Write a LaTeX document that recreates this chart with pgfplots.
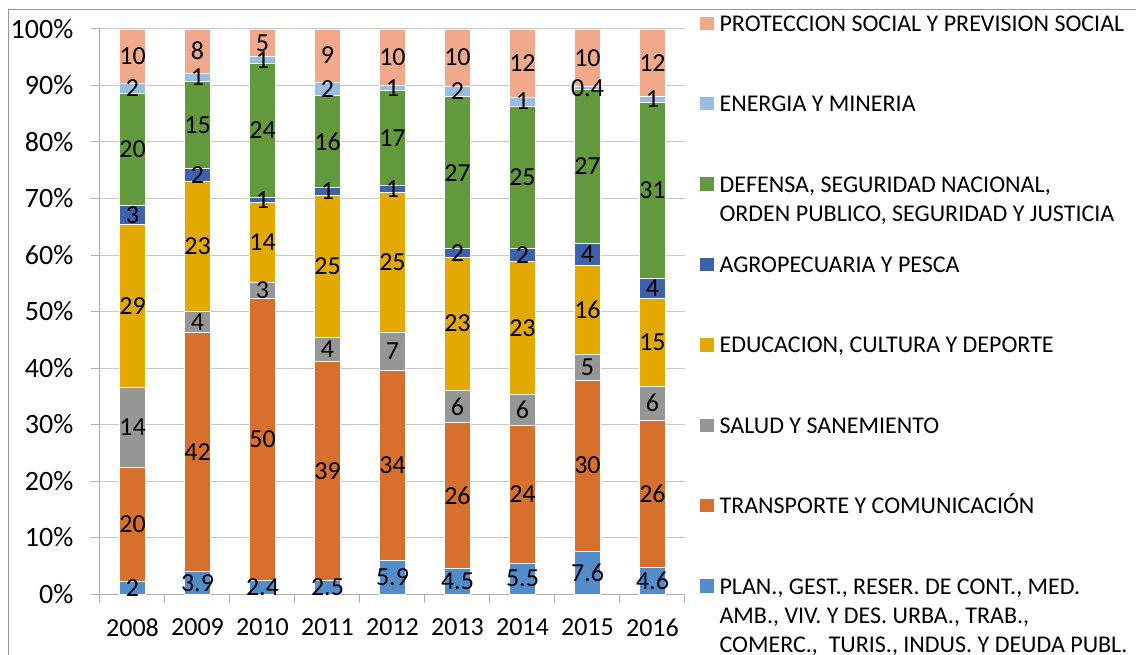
\documentclass[border=0pt]{standalone}
\usepackage{pgfplots}
\pgfplotsset{compat=1.18}
\usepackage{pgfplotstable}
\usepackage{fontspec}
\setmainfont{Carlito}

\definecolor{cPlan}{RGB}{82,140,202}
\definecolor{cTransp}{RGB}{214,112,44}
\definecolor{cSalud}{RGB}{150,150,150}
\definecolor{cEduc}{RGB}{228,169,0}
\definecolor{cAgro}{RGB}{62,97,172}
\definecolor{cDef}{RGB}{98,153,60}
\definecolor{cEner}{RGB}{155,189,227}
\definecolor{cProt}{RGB}{242,168,138}
\definecolor{gridc}{RGB}{200,200,200}
\definecolor{axisc}{RGB}{175,175,175}
\definecolor{borderc}{RGB}{150,150,150}

% segment heights (% of total) and the printed labels
\pgfplotstableread{
x plan planL transp transpL salud saludL educ educL agro agroL def defL ener enerL prot protL
0 2.20 2   20.30 20 14.10 14 28.80 29 3.40 3 19.90 20 1.70 2   9.60 10
1 3.95 3.9 42.30 42  3.85  4 23.00 23 2.25 2 15.35 15 1.50 1   7.80 8
2 2.50 2.4 49.90 50  2.80  3 14.10 14 0.90 1 23.80 24 1.10 1   4.90 5
3 2.50 2.5 38.60 39  4.30  4 25.20 25 1.30 1 16.30 16 2.40 2   9.40 9
4 6.00 5.9 33.50 34  6.90  7 24.70 25 1.20 1 16.90 17 0.80 1  10.00 10
5 4.55 4.5 25.75 26  5.80  6 23.50 23 1.50 2 26.90 27 1.90 2  10.10 10
6 5.50 5.5 24.30 24  5.50  6 23.50 23 2.30 2 25.30 25 1.50 1  12.10 12
7 7.60 7.6 30.30 30  4.60  5 15.70 16 3.80 4 27.40 27 0.40 0.4 10.20 10
8 4.65 4.6 26.05 26  6.10  6 15.50 15 3.60 4 31.10 31 1.00 1  12.00 12
}\data

\pgfplotsset{
  common/.style={
    scale only axis, width=438.75pt, height=423.75pt,
    at={(0pt,0pt)}, anchor=south west,
    xmin=-0.5, xmax=8.5, ymin=0, ymax=100,
    ybar stacked, bar width=19.75pt,
  },
  sqlegend/.style={legend image code/.code={\fill[##1,draw=none] (0pt,1pt) rectangle (10pt,11pt);}},
  lab/.style={draw=none, fill=none, forget plot,
    nodes near coords, point meta=explicit symbolic,
    every node near coord/.append style={anchor=center,
      font=\fontsize{19.5pt}{23pt}\selectfont, text=black, inner sep=0pt}},
}

\begin{document}
\begin{tikzpicture}
\useasboundingbox (-75pt,-45pt) rectangle (777pt,445.5pt);
\draw[borderc, line width=0.75pt] (-68.25pt,-60pt) -- (-68.25pt,438pt) -- (800pt,438pt);
\begin{axis}[common,
  axis x line*=bottom, axis y line*=left,
  axis line style={draw=axisc, line width=0.75pt, -},
  ytick={0,10,...,100},
  yticklabels={0\%,10\%,20\%,30\%,40\%,50\%,60\%,70\%,80\%,90\%,100\%},
  ymajorgrids, grid style={draw=gridc, line width=0.75pt},
  xtick={-0.5,0.5,...,8.5}, xticklabels={},
  extra x ticks={0,1,2,3,4,5,6,7,8},
  extra x tick labels={2008,2009,2010,2011,2012,2013,2014,2015,2016},
  extra x tick style={major tick length=0pt},
  tick align=outside, major tick length=6.5pt,
  tick style={draw=axisc, line width=0.75pt},
  tick label style={font=\fontsize{19.5pt}{23pt}\selectfont},
  xticklabel style={yshift=-15pt},
  yticklabel style={xshift=-10pt, font=\fontsize{21pt}{24pt}\selectfont},
  reverse legend,
  legend style={at={(1.0256,1.0295)}, anchor=north west, draw=none, fill=none,
    inner sep=0pt, row sep=0pt, column sep=4.5pt,
    cells={anchor=base west},
    nodes={inner sep=0pt, text height=14pt, text depth=46.3pt,
      font=\fontsize{18pt}{21.75pt}\selectfont}},
]
\addplot[fill=cPlan, draw=white, line width=0.5pt, sqlegend] table[x=x,y=plan]{\data};
\addlegendentry{\parbox[t]{320pt}{PLAN., GEST., RESER. DE CONT., MED.\\AMB., VIV. Y DES. URBA., TRAB.,\\COMERC.,\ \ TURIS., INDUS. Y DEUDA PUBL.}}
\addplot[fill=cTransp, draw=white, line width=0.5pt, sqlegend] table[x=x,y=transp]{\data};
\addlegendentry{TRANSPORTE Y COMUNICACIÓN}
\addplot[fill=cSalud, draw=white, line width=0.5pt, sqlegend] table[x=x,y=salud]{\data};
\addlegendentry{SALUD Y SANEMIENTO}
\addplot[fill=cEduc, draw=white, line width=0.5pt, sqlegend] table[x=x,y=educ]{\data};
\addlegendentry{EDUCACION, CULTURA Y DEPORTE}
\addplot[fill=cAgro, draw=white, line width=0.5pt, sqlegend] table[x=x,y=agro]{\data};
\addlegendentry{AGROPECUARIA Y PESCA}
\addplot[fill=cDef, draw=white, line width=0.5pt, sqlegend] table[x=x,y=def]{\data};
\addlegendentry{\parbox[t]{320pt}{DEFENSA, SEGURIDAD NACIONAL,\\ORDEN PUBLICO, SEGURIDAD Y JUSTICIA}}
\addplot[fill=cEner, draw=white, line width=0.5pt, sqlegend] table[x=x,y=ener]{\data};
\addlegendentry{ENERGIA Y MINERIA}
\addplot[fill=cProt, draw=white, line width=0.5pt, sqlegend] table[x=x,y=prot]{\data};
\addlegendentry{PROTECCION SOCIAL Y PREVISION SOCIAL}
\end{axis}
\begin{axis}[common, hide axis]
\addplot[lab] table[x=x,y=plan,meta=planL]{\data};
\addplot[lab] table[x=x,y=transp,meta=transpL]{\data};
\addplot[lab] table[x=x,y=salud,meta=saludL]{\data};
\addplot[lab] table[x=x,y=educ,meta=educL]{\data};
\addplot[lab] table[x=x,y=agro,meta=agroL]{\data};
\addplot[lab] table[x=x,y=def,meta=defL]{\data};
\addplot[lab] table[x=x,y=ener,meta=enerL]{\data};
\addplot[lab] table[x=x,y=prot,meta=protL]{\data};
\end{axis}
\end{tikzpicture}
\end{document}
